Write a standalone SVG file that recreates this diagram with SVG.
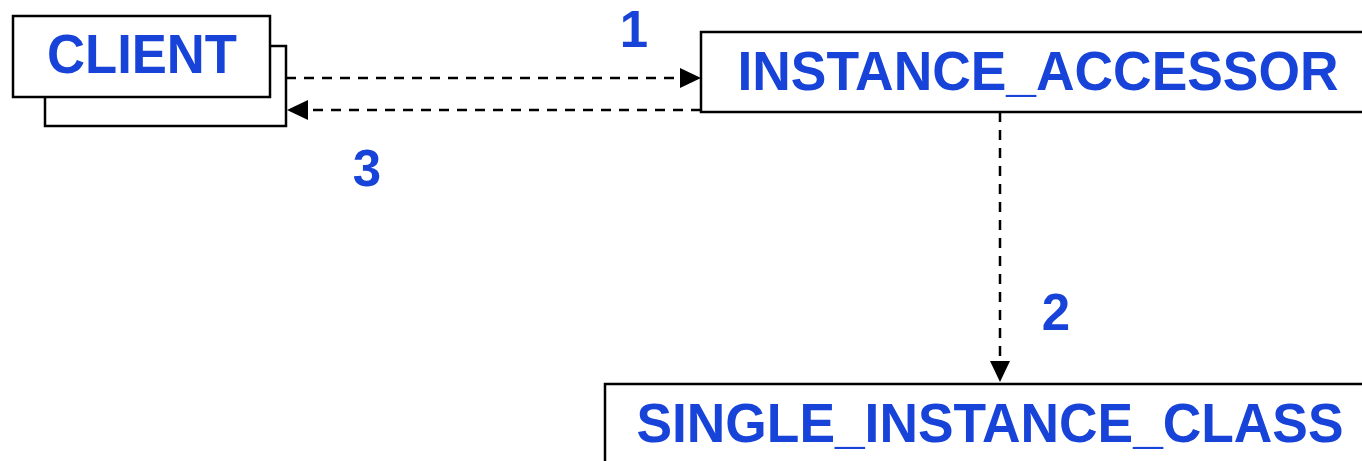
<svg xmlns="http://www.w3.org/2000/svg" width="1362" height="461" viewBox="0 0 1362 461">
<style>
.box{fill:#fff;stroke:#000;stroke-width:2.5}
.lbl{font-family:"Liberation Sans",Arial,sans-serif;font-weight:bold;fill:#1843d9;font-size:56px}
.num{font-family:"Liberation Sans",Arial,sans-serif;font-weight:bold;fill:#1843d9;font-size:51px}
.conn{fill:none;stroke:#000;stroke-width:2.5;stroke-dasharray:10 8}
</style>
<defs>
<marker id="ah" viewBox="0 0 21 20" refX="21" refY="10" markerWidth="21" markerHeight="20" markerUnits="userSpaceOnUse" orient="auto">
<path d="M0,0 L21,10 L0,20 Z" fill="#000"/>
</marker>
</defs>
<g id="client">
<rect class="box" x="45" y="46" width="241" height="80"/>
<rect class="box" x="13" y="16" width="257" height="81"/>
<text class="lbl" x="142" y="73" text-anchor="middle" textLength="190" lengthAdjust="spacingAndGlyphs">CLIENT</text>
</g>
<g id="instance_accessor">
<rect class="box" x="701" y="32" width="680" height="80"/>
<text class="lbl" x="1038" y="90" text-anchor="middle" textLength="601" lengthAdjust="spacingAndGlyphs">INSTANCE_ACCESSOR</text>
</g>
<g id="single_instance_class">
<rect class="box" x="605" y="384" width="780" height="100"/>
<text class="lbl" x="990" y="442" text-anchor="middle" textLength="707" lengthAdjust="spacingAndGlyphs">SINGLE_INSTANCE_CLASS</text>
</g>
<g id="connectors">
<path class="conn" d="M286,78 L701,78" marker-end="url(#ah)"/>
<path class="conn" d="M701,110 L287,110" marker-end="url(#ah)"/>
<path class="conn" d="M1000,112 L1000,382" marker-end="url(#ah)"/>
<text class="num" x="634" y="47" text-anchor="middle">1</text>
<text class="num" x="1056" y="330" text-anchor="middle">2</text>
<text class="num" x="367" y="186" text-anchor="middle">3</text>
</g>
</svg>
